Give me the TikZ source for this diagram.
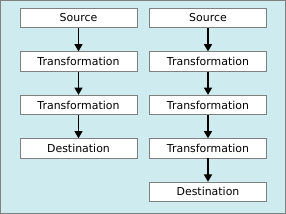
\documentclass[tikz,border=0pt]{standalone}
\usepackage{fontspec}
\setmainfont{DejaVu Sans}
\usetikzlibrary{positioning}
\usetikzlibrary{arrows.meta}
\definecolor{panelbg}{RGB}{206,236,239}
\definecolor{boxline}{RGB}{128,128,128}
\tikzset{
  stagebox/.style={draw=boxline, fill=white, line width=0.6pt, minimum width=87.75pt,
    minimum height=14.5pt, inner sep=0pt, font=\fontsize{8.2}{9}\selectfont},
  flowarrow/.style={line width=1.2pt, -{Triangle[width=6pt,length=5.5pt]}}
}
\begin{document}
\begin{tikzpicture}[x=0.75pt, y=-0.75pt, node distance=17.5pt]
% -- panel --
\useasboundingbox (0,0) rectangle (286,214);
\draw[fill=panelbg, draw=boxline, line width=0.75pt] (0.5,0.5) rectangle (285.5,213.5);
% -- left column: 2 transformations --
\node[stagebox] (lsrc) at (78.5,18) {Source};
\node[stagebox, below=of lsrc] (ltr1) {Transformation};
\node[stagebox, below=of ltr1] (ltr2) {Transformation};
\node[stagebox, below=of ltr2] (ldst) {Destination};
\draw[flowarrow] (lsrc) -- (ltr1);
\draw[flowarrow] (ltr1) -- (ltr2);
\draw[flowarrow] (ltr2) -- (ldst);
% -- right column: 3 transformations --
\node[stagebox] (rsrc) at (208,18) {Source};
\node[stagebox, below=of rsrc] (rtr1) {Transformation};
\node[stagebox, below=of rtr1] (rtr2) {Transformation};
\node[stagebox, below=of rtr2] (rtr3) {Transformation};
\node[stagebox, below=of rtr3] (rdst) {Destination};
\draw[flowarrow] (rsrc) -- (rtr1);
\draw[flowarrow] (rtr1) -- (rtr2);
\draw[flowarrow] (rtr2) -- (rtr3);
\draw[flowarrow] (rtr3) -- (rdst);
\end{tikzpicture}
\end{document}
